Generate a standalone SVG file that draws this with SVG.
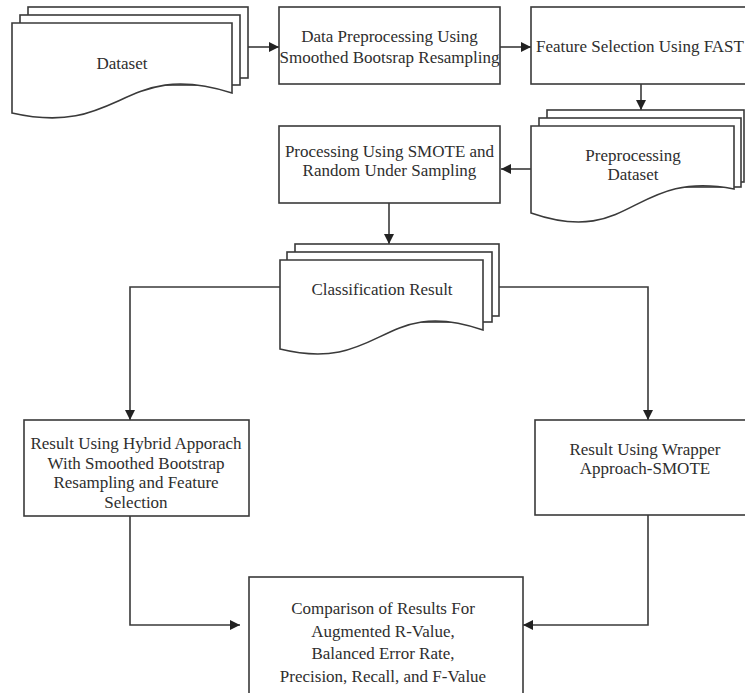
<svg xmlns="http://www.w3.org/2000/svg" width="745" height="693" viewBox="0 0 745 693">
<style>
.s{fill:#fff;stroke:#3a3a3a;stroke-width:1.6}
.c{fill:none;stroke:#3a3a3a;stroke-width:1.6}
text{font-family:"Liberation Serif","Times New Roman",serif;font-size:17px;fill:#2e2e2e;text-anchor:middle}
</style>
<defs>
<marker id="ah" viewBox="0 0 10 10" refX="10" refY="5" markerWidth="10" markerHeight="10" markerUnits="userSpaceOnUse" orient="auto">
<path d="M0,0 L10,5 L0,10 Z" fill="#222"/>
</marker>
</defs>
<rect width="745" height="693" fill="#fff"/>
<g id="connectors">
<path class="c" d="M248,47 H279" marker-end="url(#ah)"/>
<path class="c" d="M500,47 H531" marker-end="url(#ah)"/>
<path class="c" d="M641,84 V110" marker-end="url(#ah)"/>
<path class="c" d="M531,169 H501" marker-end="url(#ah)"/>
<path class="c" d="M389,203 V244" marker-end="url(#ah)"/>
<path class="c" d="M280,287 H130 V420" marker-end="url(#ah)"/>
<path class="c" d="M499,287 H648 V420" marker-end="url(#ah)"/>
<path class="c" d="M130,516 V625 H240" marker-end="url(#ah)"/>
<path class="c" d="M648,515 V625 H523" marker-end="url(#ah)"/>
</g>
<g id="dataset">
<rect class="s" x="28" y="7" width="220" height="71"/>
<rect class="s" x="20" y="15" width="220" height="70"/>
<path class="s" d="M12,23 H232 V93 C122,58 122,138 12,113 Z"/>
<text x="122" y="69">Dataset</text>
</g>
<g id="preprocess">
<rect class="s" x="279" y="7" width="221" height="77"/>
<text x="389.5" y="42">Data Preprocessing Using</text>
<text x="389.5" y="63">Smoothed Bootsrap Resampling</text>
</g>
<g id="fast">
<rect class="s" x="531" y="7" width="220" height="77"/>
<text x="640" y="52">Feature Selection Using FAST</text>
</g>
<g id="prepdataset">
<rect class="s" x="547" y="110" width="197" height="72"/>
<rect class="s" x="539" y="118" width="202" height="69"/>
<path class="s" d="M531,126 H734 V189 C632,169 632,248 531,213 Z"/>
<text x="633" y="161">Preprocessing</text>
<text x="633" y="180">Dataset</text>
</g>
<g id="smote">
<rect class="s" x="279" y="126" width="221" height="77"/>
<text x="389.5" y="157">Processing Using SMOTE and</text>
<text x="389.5" y="176">Random Under Sampling</text>
</g>
<g id="classification">
<rect class="s" x="295" y="244" width="204" height="72"/>
<rect class="s" x="287" y="252" width="205" height="70"/>
<path class="s" d="M280,260 H483 V330 C382,295 382,374 280,349 Z"/>
<text x="382" y="295">Classification Result</text>
</g>
<g id="hybrid">
<rect class="s" x="24" y="420" width="225" height="96"/>
<text x="136" y="449">Result Using Hybrid Apporach</text>
<text x="136" y="469">With Smoothed Bootstrap</text>
<text x="136" y="488">Resampling and Feature</text>
<text x="136" y="508">Selection</text>
</g>
<g id="wrapper">
<rect class="s" x="535" y="420" width="216" height="95"/>
<text x="645" y="455">Result Using Wrapper</text>
<text x="645" y="474">Approach-SMOTE</text>
</g>
<g id="comparison">
<rect class="s" x="249" y="577" width="274" height="125"/>
<text x="383" y="614">Comparison of Results For</text>
<text x="383" y="637">Augmented R-Value,</text>
<text x="383" y="659">Balanced Error Rate,</text>
<text x="383" y="682">Precision, Recall, and F-Value</text>
</g>
</svg>
